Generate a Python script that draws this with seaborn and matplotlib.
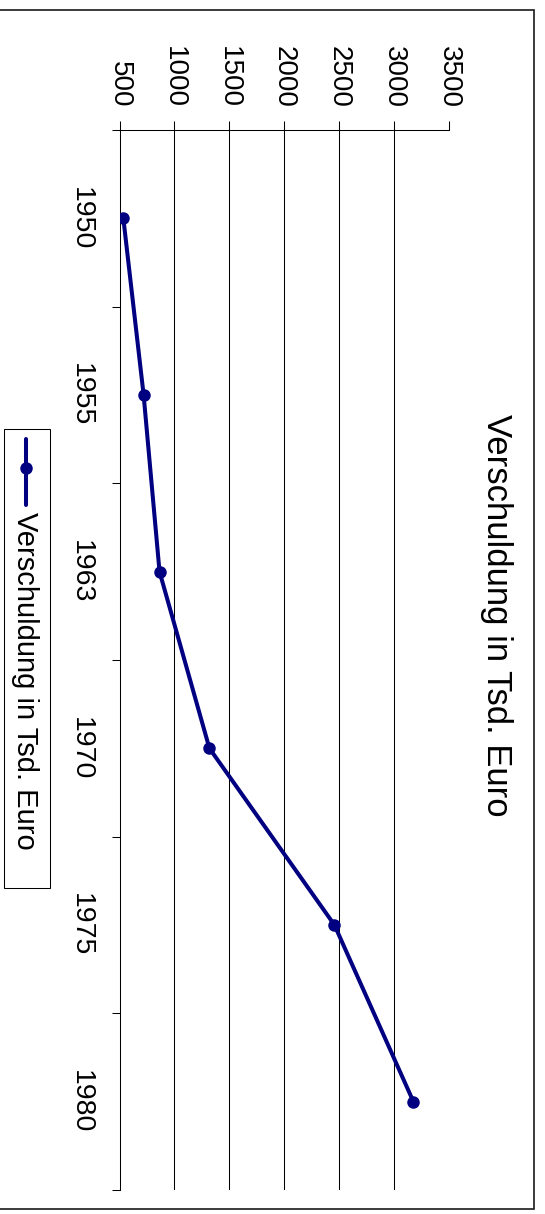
import numpy as np
import pandas as pd
import matplotlib
matplotlib.use("Agg")
import matplotlib.pyplot as plt
from matplotlib.lines import Line2D
from matplotlib.patches import Rectangle
import seaborn as sns

# Debt by year (thousand euro)
jahre = ["1950", "1955", "1963", "1970", "1975", "1980"]
verschuldung = [535, 720, 865, 1320, 2460, 3180]
werte_ticks = [500, 1000, 1500, 2000, 2500, 3000, 3500]
reihe = "Verschuldung in Tsd. Euro"

W, H, DPI = 545, 1214, 100
NAVY = "#000080"

sns.set_theme(style="white")
plt.rcParams["font.family"] = ["Liberation Sans", "DejaVu Sans"]


def fx(px):
    return px / W


def fy(py):
    return 1 - py / H


fig = plt.figure(figsize=(W / DPI, H / DPI), dpi=DPI, facecolor="white")

# The chart is laid out turned a quarter turn clockwise:
# values run left -> right, years run top -> bottom.
ax = fig.add_axes([fx(119.5), fy(1190), fx(448.5) - fx(119.5), fy(130) - fy(1190)])
ax.set_facecolor("white")

df = pd.DataFrame({"Jahr": jahre, "Wert": verschuldung})
sns.lineplot(data=df, x="Wert", y="Jahr", orient="y", sort=False,
             errorbar=None, color=NAVY, lw=2.9, marker="o", markersize=9,
             markeredgecolor=NAVY, markeredgewidth=0, legend=False, ax=ax,
             zorder=3)

ax.set_xlim(werte_ticks[0], werte_ticks[-1])
ax.set_ylim(len(jahre) - 0.5, -0.5)
ax.set_xlabel("")
ax.set_ylabel("")

# vertical gridlines at the inner value ticks
for v in werte_ticks[1:-1]:
    ax.axvline(v, color="black", lw=0.75, zorder=1)

for side in ["right", "bottom"]:
    ax.spines[side].set_visible(False)
for side in ["top", "left"]:
    ax.spines[side].set_visible(True)
    ax.spines[side].set_color("black")
    ax.spines[side].set_linewidth(0.75)

# value axis along the top
ax.xaxis.tick_top()
ax.set_xticks(werte_ticks, labels=[str(v) for v in werte_ticks])
ax.tick_params(axis="x", which="major", top=True, bottom=False,
               direction="out", length=6.5, width=0.75, color="black",
               labelsize=20, labelrotation=-90, pad=9.4,
               labeltop=True, labelbottom=False, labelcolor="black")

# year axis on the left: ticks between categories, labels at their centres
grenzen = np.arange(len(jahre) + 1) - 0.5
ax.set_yticks(grenzen, labels=[""] * len(grenzen))
ax.set_yticks(np.arange(len(jahre)), labels=jahre, minor=True,
              rotation=-90, va="center", ha="right")
ax.tick_params(axis="y", which="major", left=True, direction="out",
               length=5.8, width=0.75, color="black", labelleft=False)
ax.tick_params(axis="y", which="minor", left=True, length=0,
               labelsize=20.5, pad=18.4, labelcolor="black")

# title
fig.text(fx(486.6), fy(615), reihe, rotation=-90, rotation_mode="anchor",
         ha="center", va="baseline", fontsize=25, color="black")

# legend (turned with the chart)
fig.add_artist(Rectangle((fx(4), fy(888.3)), fx(50) - fx(4),
                         fy(429.3) - fy(888.3), transform=fig.transFigure,
                         fill=False, ec="black", lw=0.75))
fig.add_artist(Line2D([fx(26)] * 3, [fy(439), fy(468), fy(505)],
                      transform=fig.transFigure, color=NAVY, lw=2.9,
                      marker="o", markersize=9, markevery=[1],
                      markeredgewidth=0))
fig.text(fx(17), fy(511.7), reihe, rotation=-90, rotation_mode="anchor",
         ha="left", va="baseline", fontsize=21, color="black")

# chart frame
fig.add_artist(Rectangle((fx(-5), fy(1209)), fx(534) - fx(-5),
                         fy(10) - fy(1209), transform=fig.transFigure,
                         fill=False, ec="#1a1a1a", lw=1.2))

fig.savefig("out.png", dpi=DPI, facecolor="white")
